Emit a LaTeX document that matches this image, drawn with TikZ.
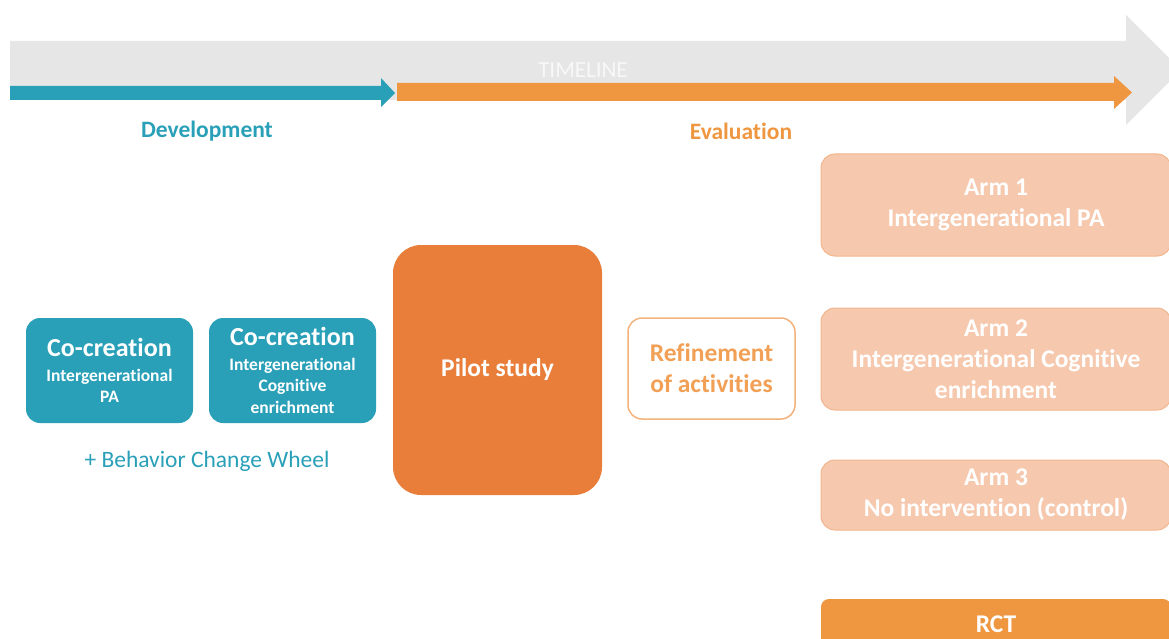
\documentclass[tikz,border=0pt]{standalone}
\usepackage{fontspec}
\setmainfont{Carlito}[Ligatures={NoCommon}]
\definecolor{tealc}{RGB}{41,160,184}
\definecolor{orarrow}{RGB}{239,150,64}
\definecolor{pilotor}{RGB}{232,126,58}
\definecolor{refline}{RGB}{244,178,124}
\definecolor{reftext}{RGB}{241,160,85}
\definecolor{armfill}{RGB}{246,201,174}
\definecolor{armline}{RGB}{242,182,142}
\definecolor{tlgray}{RGB}{230,230,230}
\definecolor{tltext}{RGB}{248,248,248}
\tikzset{
  big/.style={font=\fontsize{25.5}{31}\selectfont\bfseries},
  cobox/.style={fill=tealc, text=white, rounded corners=14pt, align=center,
    minimum width=167pt, minimum height=105pt, inner sep=0pt,
    font=\fontsize{17.5}{21.5}\selectfont\bfseries},
  armbox/.style={big, fill=armfill, draw=armline, line width=1pt, text=white,
    rounded corners=14pt, align=center, minimum width=350pt, inner sep=0pt},
}
\begin{document}
\begin{tikzpicture}[x=1pt,y=-1pt]
  \useasboundingbox (0,0) rectangle (1169,639);
  \clip (0,0) rectangle (1169,639);
  % timeline
  \fill[tlgray] (10,41) -- (1126,41) -- (1126,15) -- (1181,70) -- (1126,125)
    -- (1126,100) -- (10,100) -- cycle;
  \node[text=tltext, font=\fontsize{23}{27}\selectfont] (tl) at (583,70) {TIMELINE};
  \fill[tealc] (10,86) -- (381,86) -- (381,78) -- (395,93) -- (381,107)
    -- (381,100) -- (10,100) -- cycle;
  \fill[orarrow] (397,83) -- (1114,83) -- (1114,76) -- (1132,92.5) -- (1114,109)
    -- (1114,101) -- (397,101) -- cycle;
  \node[text=tealc, font=\fontsize{23.5}{27}\selectfont\bfseries] (dev) at (207,131) {Development};
  \node[text=orarrow, font=\fontsize{23.5}{27}\selectfont\bfseries] (eval) at (741,131) {Evaluation};
  % development
  \node[cobox] (cc1) at (109.5,370.5)
    {{\fontsize{26}{30}\selectfont Co-creation}\\[3pt] Intergenerational\\ PA};
  \node[cobox] (cc2) at (292.5,370.5)
    {{\fontsize{26}{30}\selectfont Co-creation}\\[3pt] Intergenerational\\ Cognitive\\ enrichment};
  \node[text=tealc, font=\fontsize{23.5}{27}\selectfont] (bcw) at (207,461) {+ Behavior Change Wheel};
  % evaluation
  \node[big, fill=pilotor, text=white, rounded corners=28pt, minimum width=209pt,
    minimum height=250pt] (pilot) at (497.5,370) {Pilot study};
  \node[big, fill=white, draw=refline, line width=1.5pt, text=reftext, rounded corners=14pt,
    align=center, minimum width=167pt, minimum height=101pt, inner sep=0pt]
    (ref) at (711.5,368.5) {Refinement\\ of activities};
  \node[armbox, minimum height=102pt] (arm1) at (996,205) {Arm 1\\ Intergenerational PA};
  \node[armbox, minimum height=102pt] (arm2) at (996,359)
    {Arm 2\\ Intergenerational Cognitive\\ enrichment};
  \node[armbox, minimum height=70pt] (arm3) at (996,495) {Arm 3\\ No intervention (control)};
  \node[big, fill=orarrow, text=white, rounded corners=8pt, minimum width=350pt,
    minimum height=50pt, inner sep=0pt] (rct) at (996,624) {RCT};
\end{tikzpicture}
\end{document}
